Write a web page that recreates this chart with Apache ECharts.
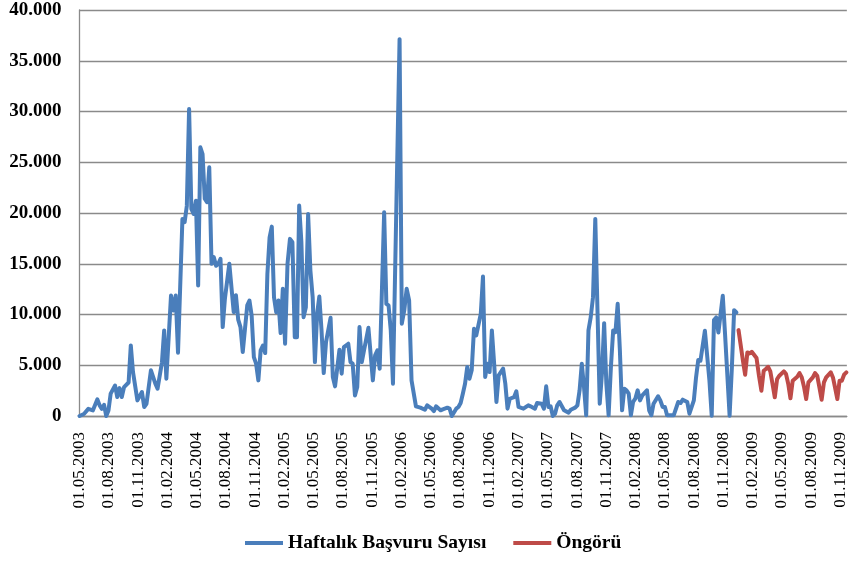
<!DOCTYPE html>
<html style="height: 100%">
<head>
  <meta charset="utf-8">
</head>
<body style="height: 100%; margin: 0">
  <div id="container" style="width: 849px; height: 561px"></div>

  <script type="text/javascript" src="https://cdn.jsdelivr.net/npm/echarts@6/dist/echarts.min.js"></script>

  <script type="text/javascript">
    // weeks counted from 01.05.2003
    var weeks = [0, 2, 4, 6, 8, 9, 10, 11, 12, 13, 14, 16, 17, 18, 19, 20, 22, 23, 24, 26, 28, 29, 30, 32, 34, 35, 37, 38, 39,
      41, 42, 43, 44, 46, 47, 48, 49, 50, 51, 52, 53, 54, 55, 56, 57, 58, 59, 60, 61, 62, 63, 64, 65, 67, 69, 70, 71, 72, 73,
      75, 76, 77, 78, 79, 80, 81, 82, 83, 84, 85, 86, 87, 88, 89, 90, 91, 92, 93, 94, 95, 96, 97, 98, 99, 100, 101, 102, 103,
      104, 105, 106, 107, 108, 109, 110, 112, 113, 114, 116, 117, 118, 120, 121, 122, 123, 124, 125, 126, 127, 129, 131, 132,
      133, 134, 136, 137, 138, 139, 140, 143, 144, 145, 146, 147, 148, 150, 152, 154, 155, 157, 158, 159, 161, 162, 164, 165,
      166, 168, 169, 170, 171, 172, 173, 174, 175, 176, 177, 179, 180, 181, 182, 183, 184, 185, 186, 187, 189, 190, 191, 192,
      194, 195, 196, 198, 200, 201, 203, 204, 206, 207, 208, 209, 210, 211, 212, 213, 214, 216, 218, 219, 221, 222, 223, 224,
      225, 226, 227, 228, 229, 230, 232, 233, 234, 235, 236, 237, 238, 239, 240, 241, 242, 243, 244, 245, 246, 247, 248, 249,
      250, 251, 253, 254, 255, 256, 258, 259, 260, 261, 262, 265, 267, 268, 269, 271, 272, 274, 275, 276, 277, 279, 281, 282,
      283, 284, 285, 286, 287, 288, 290, 291, 292, 293];
    var applications = [0, 200, 700, 550, 1640, 1050, 700, 1100, 0, 550, 2200, 3000, 1870, 2750, 1870, 2850, 3300, 6950, 4330,
      1540, 2360, 890, 1200, 4500, 3180, 2700, 5300, 8430, 3670, 11870, 10400, 11870, 6230, 19400, 19100, 20700, 30240, 20400,
      19900, 21200, 12860, 26470, 25800, 21400, 21060, 24500, 15000, 15650, 14800, 15000, 15480, 8760, 11550, 15000, 10230,
      11900, 9500, 8760, 6300, 10900, 11380, 9900, 5800, 5150, 3510, 6460, 6950, 6200, 14000, 17600, 18660, 11700, 10230,
      11380, 8170, 12530, 7120, 15000, 17450, 17120, 7770, 7770, 20730, 17120, 9740, 10700, 19900, 14330, 11700, 5310, 10070,
      11770, 8430, 4230, 7280, 9680, 3840, 2920, 6530, 4170, 6790, 7120, 5310, 5150, 2030, 2850, 8760, 5310, 6460, 8690, 3510,
      5970, 6460, 4660, 20070, 11050, 10900, 8430, 3180, 37130, 9090, 10400, 12530, 11380, 3510, 950, 820, 620, 1050, 720,
      490, 950, 560, 660, 820, 720, 0, 720, 890, 1280, 2200, 3180, 4820, 3670, 4500, 8590, 7940, 10070, 13740, 3840, 5150,
      4330, 8430, 5150, 1380, 4000, 4660, 3180, 720, 1700, 1870, 2430, 890, 720, 1050, 950, 720, 1280, 1210, 720, 2920, 890,
      950, 0, 230, 1050, 1380, 560, 330, 620, 820, 1050, 2530, 5150, 2850, 70, 8430, 9740, 11710, 19420, 1210, 4170, 9150,
      3180, 70, 4820, 8430, 8270, 11050, 6460, 560, 2690, 2530, 2200, 70, 1380, 1700, 2530, 1540, 2030, 2530, 560, 70, 1210,
      1940, 1540, 890, 890, 70, 70, 1380, 1280, 1610, 1380, 230, 1540, 3800, 5510, 5450, 8400, 3480, 30, 9450, 9710, 8230,
      10040, 11840, 8070, 30, 4790, 10430, 10200];

    var forecastWeeks = [294, 296, 297, 298, 299, 300, 302, 303, 304, 305, 306, 307, 308, 309, 310, 311, 312, 314, 315, 316,
      317, 318, 320, 321, 322, 323, 324, 325, 327, 328, 329, 330, 331, 332, 333, 335, 336, 337, 338, 339, 340, 341, 342];
    var forecast = [8460, 5450, 4070, 6260, 6170, 6330, 5710, 3970, 2490, 4460, 4630, 4850, 4400, 3150, 1840, 3640, 3970, 4400,
      4130, 3150, 1740, 3480, 3870, 4230, 3800, 2890, 1670, 3310, 3800, 4230, 3970, 2820, 1610, 3310, 3800, 4300, 3800, 2760,
      1670, 3480, 3480, 4070, 4300];

    var seriesNames = ['Haftalık Başvuru Sayısı', 'Öngörü'];
    var serif = '"Times New Roman", "Liberation Serif", serif';

    // position on the x axis in months since 01.05.2003
    function monthIndex(week) {
      var d = new Date(Date.UTC(2003, 4, 1) + week * 7 * 86400000);
      var y = d.getUTCFullYear(), m = d.getUTCMonth();
      var dim = new Date(Date.UTC(y, m + 1, 0)).getUTCDate();
      return (y - 2003) * 12 + (m - 4) + (d.getUTCDate() - 1) / dim;
    }
    function pairs(ws, vs) {
      return ws.map(function (w, i) { return [monthIndex(w), vs[i]]; });
    }

    var dom = document.getElementById('container');
    var myChart = echarts.init(dom, null, { renderer: 'canvas' });
    var option = {
      animation: false,
      grid: { left: 79.5, right: 0, top: 10, bottom: 145 },
      legend: {
        left: 245,
        top: 533,
        padding: 0,
        icon: 'rect',
        itemWidth: 38,
        itemHeight: 4,
        itemGap: 27,
        textStyle: { fontFamily: serif, fontSize: 19.5, fontWeight: 'bold', color: '#000' },
        data: seriesNames
      },
      xAxis: {
        type: 'value',
        min: 0,
        max: 78.65,
        interval: 3,
        splitLine: { show: false },
        axisTick: { show: false },
        axisLine: { lineStyle: { color: '#8a8a8a', width: 1.3 } },
        axisLabel: {
          rotate: 90,
          margin: 16,
          fontFamily: serif,
          fontSize: 17,
          color: '#000',
          showMaxLabel: false,
          formatter: function (v) {
            var k = Math.round(v) + 4;
            var mm = (k % 12) + 1;
            return '01.' + (mm < 10 ? '0' + mm : mm) + '.' + (2003 + Math.floor(k / 12));
          }
        }
      },
      yAxis: {
        type: 'value',
        min: 0,
        max: 40000,
        interval: 5000,
        axisLine: { show: true, lineStyle: { color: '#8a8a8a', width: 1.3 } },
        axisTick: { show: false },
        splitLine: { lineStyle: { color: '#8a8a8a', width: 1.3 } },
        axisLabel: {
          margin: 18,
          fontFamily: serif,
          fontSize: 19,
          fontWeight: 'bold',
          color: '#000',
          formatter: function (v) { return v === 0 ? '0' : (v / 1000) + '.000'; }
        }
      },
      series: [
        {
          name: seriesNames[0],
          type: 'line',
          data: pairs(weeks, applications),
          symbol: 'none',
          color: '#4a7ebb',
          lineStyle: { color: '#4a7ebb', width: 4, join: 'round', cap: 'round' }
        },
        {
          name: seriesNames[1],
          type: 'line',
          data: pairs(forecastWeeks, forecast),
          symbol: 'none',
          color: '#be4b48',
          lineStyle: { color: '#be4b48', width: 4, join: 'round', cap: 'round' }
        }
      ]
    };

    myChart.setOption(option);
  </script>
</body>
</html>
